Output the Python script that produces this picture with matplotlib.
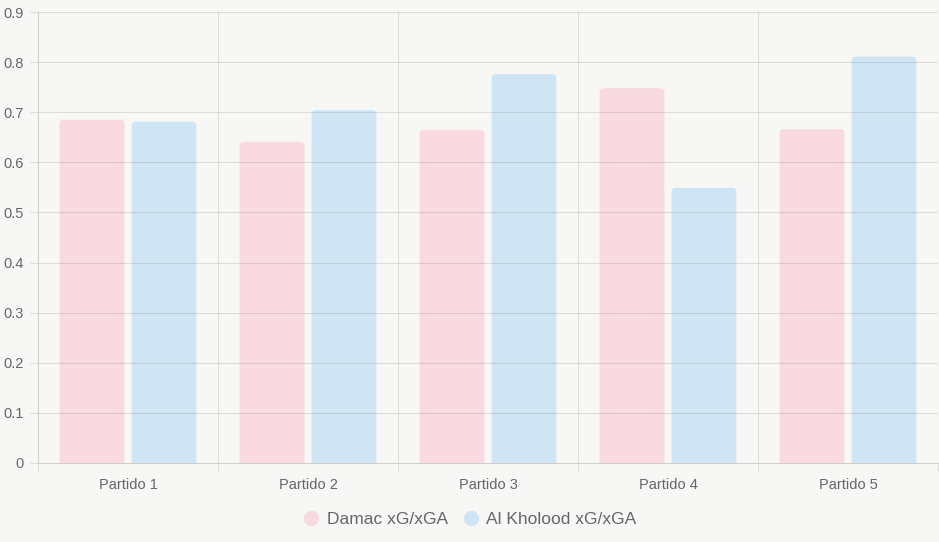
import matplotlib
matplotlib.use("Agg")
import matplotlib.pyplot as plt
import numpy as np
from matplotlib.lines import Line2D
from matplotlib.patches import FancyBboxPatch

plt.rcParams["font.family"] = ["Liberation Sans", "DejaVu Sans"]

partidos = ["Partido 1", "Partido 2", "Partido 3", "Partido 4", "Partido 5"]
damac = [0.685, 0.641, 0.665, 0.748, 0.666]
al_kholood = [0.681, 0.704, 0.776, 0.549, 0.811]
series_labels = ["Damac xG/xGA", "Al Kholood xG/xGA"]

bg = "#F7F7F5"
pink = "#F8DAE0"
blue = "#D0E5F3"
grid_c = "#000000"
grid_a = 0.1
txt = "#666666"

fig = plt.figure(figsize=(9.39, 5.42), dpi=100)
fig.patch.set_facecolor(bg)
W, H = 939, 542
ax = fig.add_axes([38 / W, (H - 463) / H, 900 / W, 451 / H])
ax.set_facecolor(bg)

x = np.arange(len(partidos))
bw = 0.36
bars = list(ax.bar(x - 0.2, damac, width=bw, color=pink, zorder=1))
bars += list(ax.bar(x + 0.2, al_kholood, width=bw, color=blue, zorder=1))

# rounded top corners (bottom goes below the axis and is clipped)
for r in bars:
    r.set_visible(False)
    bx, by = r.get_x(), r.get_y()
    w, h = r.get_width(), r.get_height()
    p = FancyBboxPatch((bx, by - 0.02), w, h + 0.02,
                       boxstyle="round,pad=0,rounding_size=0.022",
                       mutation_aspect=0.36, facecolor=r.get_facecolor(),
                       edgecolor="none", zorder=1)
    ax.add_patch(p)

ax.set_xlim(-0.5, len(partidos) - 0.5)
ax.set_ylim(0, 0.9)

yt = np.round(np.arange(0, 0.91, 0.1), 1)
ax.set_yticks(yt)
ax.set_yticklabels(["0"] + [f"{v:.1f}" for v in yt[1:]])
ax.set_xticks(x)
ax.set_xticklabels(partidos)
ax.set_xticks(np.arange(-0.5, len(partidos)), minor=True)

ax.tick_params(axis="x", which="major", length=0, pad=11, labelsize=10.5, labelcolor=txt)
ax.tick_params(axis="x", which="minor", length=6, width=0.75, color="#DCDCDA")
ax.tick_params(axis="y", which="major", length=6, width=0.75, color="#DCDCDA", pad=4,
               labelsize=10.5, labelcolor=txt)

ax.set_axisbelow(False)
ax.grid(axis="y", which="major", color=grid_c, alpha=grid_a, linewidth=0.75, zorder=3)
ax.grid(axis="x", which="minor", color=grid_c, alpha=grid_a, linewidth=0.75, zorder=3)

for s in ["top", "right"]:
    ax.spines[s].set_visible(False)
for s in ["left", "bottom"]:
    ax.spines[s].set_color("#CFCFCD")
    ax.spines[s].set_linewidth(0.75)
    ax.spines[s].set_zorder(4)

handles = [Line2D([], [], marker="o", linestyle="none", markersize=10,
                  markerfacecolor=c, markeredgecolor=c) for c in (pink, blue)]
fig.legend(handles, series_labels, loc="center", bbox_to_anchor=(0.5, 1 - 519 / H),
           ncol=2, frameon=False, fontsize=12.5, labelcolor=txt,
           handletextpad=0.4, columnspacing=0.8, handlelength=1.0)

fig.savefig("out.png", dpi=100, facecolor=bg)
